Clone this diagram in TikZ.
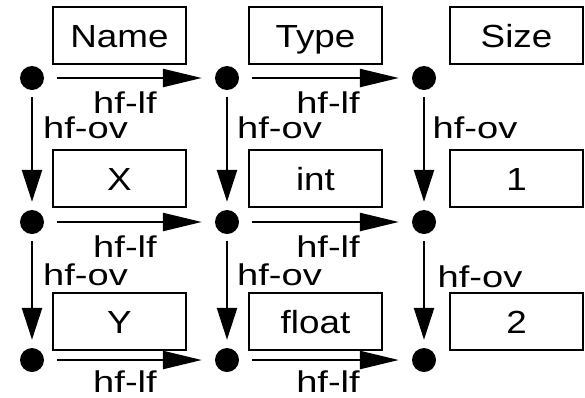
\documentclass[tikz,border=0pt]{standalone}
\usepackage{fontspec}
\newfontfamily\boxfont{Liberation Sans}[FakeStretch=1.15]
\newfontfamily\labfont{Liberation Sans}[FakeStretch=1.27]
\usetikzlibrary{arrows.meta}
\begin{document}
\begin{tikzpicture}[x=1pt,y=-1pt,
  cell/.style={draw,line width=2pt,minimum width=133pt,minimum height=57pt,
    inner sep=0pt,text height=23pt,text depth=0pt,
    font=\boxfont\fontsize{32pt}{36pt}\selectfont},
  dot/.style={circle,fill,inner sep=0pt,minimum size=24pt},
  lab/.style={anchor=base,inner sep=0pt,font=\labfont\fontsize{30pt}{34pt}\selectfont},
  hlink/.style={line width=2.5pt,shorten <=13pt,shorten >=13pt,
    -{Triangle[length=39pt,width=18pt]}},
  vlink/.style={line width=2.5pt,shorten <=7pt,shorten >=8pt,
    -{Triangle[length=32pt,width=20pt]}}]
\useasboundingbox (0,0) rectangle (585,397);

% table cells
\node[cell] (name)  at (119.5,35.5) {Name};
\node[cell] (type)  at (315.5,35.5) {Type};
\node[cell] (size)  at (516.5,35.5) {Size};
\node[cell] (x)     at (119.5,178.5) {X};
\node[cell] (int)   at (315.5,178.5) {int};
\node[cell] (one)   at (516.5,178.5) {1};
\node[cell] (y)     at (119.5,321.5) {Y};
\node[cell] (float) at (315.5,321.5) {float};
\node[cell] (two)   at (516.5,321.5) {2};

% grid points
\node[dot] (d11) at (32,78) {};
\node[dot] (d12) at (227,78) {};
\node[dot] (d13) at (424,78) {};
\node[dot] (d21) at (32,222) {};
\node[dot] (d22) at (227,222) {};
\node[dot] (d23) at (424,222) {};
\node[dot] (d31) at (32,360) {};
\node[dot] (d32) at (227,360) {};
\node[dot] (d33) at (424,360) {};

% horizontal links
\draw[hlink] (d11) -- (d12);
\draw[hlink] (d12) -- (d13);
\draw[hlink] (d21) -- (d22);
\draw[hlink] (d22) -- (d23);
\draw[hlink] (d31) -- (d32);
\draw[hlink] (d32) -- (d33);

% vertical links
\draw[vlink] (d11) -- (d21);
\draw[vlink] (d12) -- (d22);
\draw[vlink] (d13) -- (d23);
\draw[vlink] (d21) -- (d31);
\draw[vlink] (d22) -- (d32);
\draw[vlink] (d23) -- (d33);

% link labels
\node[lab] (lf11) at (125,113) {hf-lf};
\node[lab] (lf12) at (328,113) {hf-lf};
\node[lab] (lf21) at (125,257) {hf-lf};
\node[lab] (lf22) at (328,257) {hf-lf};
\node[lab] (lf31) at (125,392) {hf-lf};
\node[lab] (lf32) at (328,392) {hf-lf};
\node[lab] (ov11) at (85.5,138) {hf-ov};
\node[lab] (ov12) at (279.5,138) {hf-ov};
\node[lab] (ov13) at (475,138) {hf-ov};
\node[lab] (ov21) at (85.5,285) {hf-ov};
\node[lab] (ov22) at (279.5,285) {hf-ov};
\node[lab] (ov23) at (480,287) {hf-ov};
\end{tikzpicture}
\end{document}
